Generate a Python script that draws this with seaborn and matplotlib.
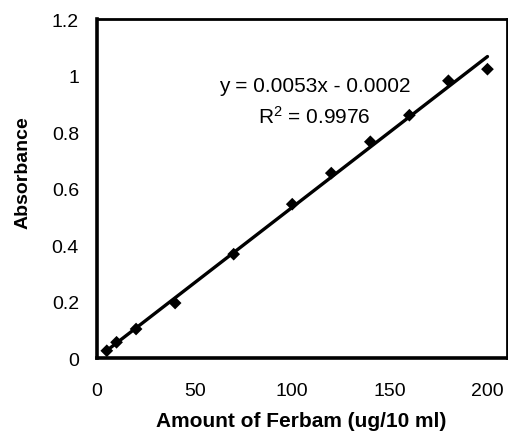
import matplotlib
matplotlib.use("Agg")
import matplotlib.pyplot as plt
import seaborn as sns
import pandas as pd

# Data
amount = [5, 10, 20, 40, 70, 100, 120, 140, 160, 180, 200]
absorbance = [0.026, 0.056, 0.103, 0.195, 0.368, 0.545, 0.655, 0.766, 0.860, 0.982, 1.023]
x_ticks = [0, 50, 100, 150, 200]
y_ticks = [0, 0.2, 0.4, 0.6, 0.8, 1.0, 1.2]
y_tick_labels = ["0", "0.2", "0.4", "0.6", "0.8", "1", "1.2"]
equation_text = "y = 0.0053x - 0.0002"
r2_text = r"$\mathregular{R^2}$ = 0.9976"
x_label = "Amount of Ferbam (ug/10 ml)"
y_label = "Absorbance"

df = pd.DataFrame({"amount": amount, "absorbance": absorbance})

sns.set_theme(style="white")
plt.rcParams["font.family"] = ["Liberation Sans", "DejaVu Sans"]

fig = plt.figure(figsize=(5.08, 4.39), dpi=100)
ax = fig.add_axes([0.191, 0.182, 0.807, 0.772])

sns.regplot(data=df, x="amount", y="absorbance", ax=ax, ci=None, truncate=True,
            marker="D", color="black",
            scatter_kws={"s": 42, "color": "black", "alpha": 1.0,
                         "edgecolors": "none", "zorder": 3},
            line_kws={"color": "black", "linewidth": 2.4, "zorder": 2})

ax.set_xlim(0, 210)
ax.set_ylim(0, 1.2)
ax.set_xticks(x_ticks)
ax.set_xticklabels([str(t) for t in x_ticks])
ax.set_yticks(y_ticks)
ax.set_yticklabels(y_tick_labels)

ax.tick_params(axis="both", which="major", direction="out", length=5, width=0.8,
               color="#666666", labelsize=14, labelcolor="black")
ax.tick_params(axis="x", pad=12)
ax.tick_params(axis="y", pad=8)

for side, lw in [("left", 2.6), ("bottom", 2.6), ("top", 2.0), ("right", 2.0)]:
    ax.spines[side].set_visible(True)
    ax.spines[side].set_color("black")
    ax.spines[side].set_linewidth(lw)

ax.set_xlabel(x_label, fontsize=15, fontweight="bold", color="black")
ax.set_ylabel(y_label, fontsize=14, fontweight="bold", color="black")
ax.xaxis.set_label_coords(0.499, -0.155)
ax.yaxis.set_label_coords(-0.16, 0.549)

ax.text(111.4, 0.964, equation_text, ha="center", va="center", fontsize=15, color="black")
ax.text(111.4, 0.857, r2_text, ha="center", va="center", fontsize=15, color="black")

ax.grid(False)
fig.savefig("out.png", dpi=100, facecolor="white")
